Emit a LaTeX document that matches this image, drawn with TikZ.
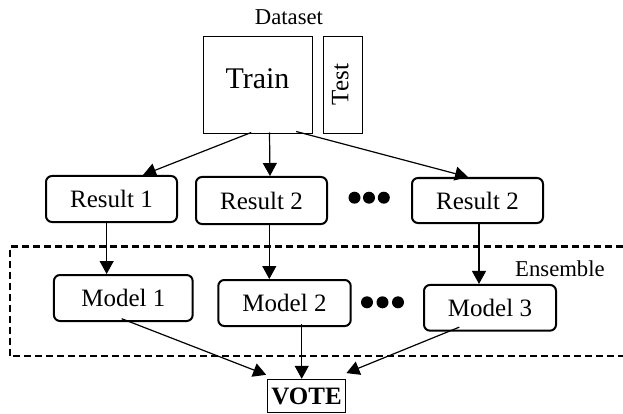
\documentclass[tikz,border=0pt]{standalone}
\usepackage{fontspec}
\setmainfont{Liberation Serif}
\usetikzlibrary{arrows.meta,calc}
\begin{document}
\begin{tikzpicture}[x=1pt,y=-1pt,
  rbox/.style={draw,line width=2pt,rounded corners=6pt,inner sep=0pt,font=\fontsize{25}{28}\selectfont},
  pbox/.style={draw,line width=1pt,inner sep=0pt},
  arr/.style={line width=1.2pt,-{Triangle[length=13pt,width=14pt]}},
  lbl/.style={inner sep=0pt,font=\fontsize{22.7}{26}\selectfont},
  dot/.style={fill=black}]
\useasboundingbox (0,0) rectangle (623,414);
% dataset
\node[lbl,anchor=base] (ds) at (289,25) {Dataset};
\node[pbox,minimum width=109pt,minimum height=97pt] (train) at (257.5,85.5) {};
\node[inner sep=0pt,anchor=base,font=\fontsize{30}{34}\selectfont] (traint) at (257.5,88.3) {Train};
\node[pbox,minimum width=39pt,minimum height=97pt] (test) at (342.8,85.5) {};
\node[inner sep=0pt,anchor=base,rotate=90,font=\fontsize{25}{28}\selectfont] (testt) at (348.3,84.7) {Test};
% results
\node[rbox,minimum width=131pt,minimum height=46pt] (r1) at (111.5,199) {Result 1};
\node[rbox,minimum width=131pt,minimum height=47pt] (r2) at (261.5,200.5) {Result 2};
\node[rbox,minimum width=131pt,minimum height=45pt] (r3) at (477.5,200.5) {Result 2};
% models
\node[rbox,minimum width=138.7pt,minimum height=46pt] (m1) at (123.3,298) {Model 1};
\node[rbox,minimum width=132.4pt,minimum height=46pt] (m2) at (284.5,303) {Model 2};
\node[rbox,minimum width=132pt,minimum height=45.7pt] (m3) at (490,307.8) {Model 3};
% vote
\node[pbox,minimum width=78.4pt,minimum height=33.4pt,font=\fontsize{25}{28}\selectfont\bfseries] (vote) at (306.5,396) {VOTE};
% ensemble
\coordinate (eA) at (623,246.5);
\coordinate (eB) at (10,246.5);
\coordinate (eC) at (10,356.2);
\coordinate (eD) at (623,356.2);
\draw[line width=2.3pt,dash pattern=on 7pt off 4pt] (eA) -- (eB) -- (eC) -- (eD);
\node[lbl,anchor=base west] (ens) at (515,276) {Ensemble};
% dots
\foreach \cx in {354.5,369,383.8} \fill[dot] (\cx,197.7) circle (6pt);
\foreach \cx in {367,382.5,398} \fill[dot] (\cx,302.3) circle (6pt);
% arrows train -> results
\draw[arr] ($(train.south west)+(48.7,-2)$) -- ($(r1.north)+(31.5,0)$);
\draw[arr] ($(train.south west)+(67,-2)$) -- ($(r2.north)+(8.5,0)$);
\draw[arr] ($(train.south west)+(93.7,-3)$) -- ($(r3.north)+(-9.5,0)$);
% results -> models
\draw[arr] (r1.south -| m1.north west) ++(53.7,0) coordinate (s1) -- (s1 |- m1.north);
\draw[arr] ($(r2.south)+(7.8,0)$) coordinate (s2) -- (s2 |- m2.north);
\draw[arr] ($(r3.south)+(1.5,0)$) coordinate (s3) -- (s3 |- m3.north);
% models -> vote
\draw[arr] ($(m1.south)+(-1.6,-3.3)$) -- ($(vote.north west)+(-0.6,-4)$);
\draw[arr] ($(m2.south)+(17.2,-3)$) coordinate (s5) -- (s5 |- vote.north);
\draw[arr] ($(m3.south)+(-30.7,-4.5)$) -- ($(vote.north east)+(0.2,-5.7)$);
\end{tikzpicture}
\end{document}
